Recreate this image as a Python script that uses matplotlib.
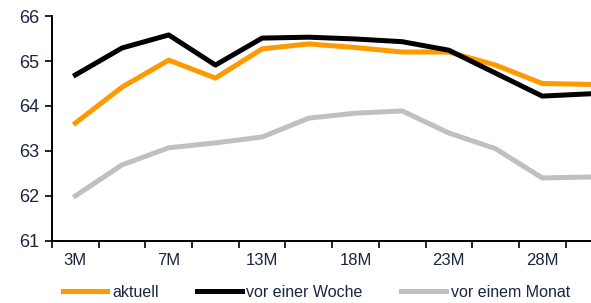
import matplotlib.pyplot as plt
import numpy as np

plt.rcParams['font.family'] = ['Liberation Sans', 'DejaVu Sans']

# categories (maturities), only every other one gets a label
CATEGORIES = ['3M', '5M', '7M', '10M', '13M', '15M', '18M', '20M', '23M', '25M', '28M', '30M']
TICK_LABELS = ['3M', '', '7M', '', '13M', '', '18M', '', '23M', '', '28M', '']

AKTUELL = [63.62, 64.42, 65.02, 64.62, 65.27, 65.38, 65.30, 65.20, 65.20, 64.91, 64.50, 64.48]
VOR_WOCHE = [64.69, 65.29, 65.58, 64.91, 65.51, 65.53, 65.49, 65.43, 65.24, 64.73, 64.22, 64.27]
VOR_MONAT = [62.00, 62.69, 63.07, 63.18, 63.31, 63.73, 63.84, 63.89, 63.40, 63.05, 62.40, 62.42]

TEXT_COLOR = '#1c2541'


def main():
    fig = plt.figure(figsize=(5.91, 3.03), dpi=100)
    ax = fig.add_axes([0.088, 0.205, 0.948, 0.742])

    x = np.arange(len(CATEGORIES))
    ax.plot(x, AKTUELL, color='#ff9900', linewidth=3.6, label='aktuell')
    ax.plot(x, VOR_WOCHE, color='black', linewidth=3.6, label='vor einer Woche')
    ax.plot(x, VOR_MONAT, color='#c0c0c0', linewidth=3.6, label='vor einem Monat')

    ax.set_xlim(-0.5, len(CATEGORIES) - 0.5)
    ax.set_ylim(61, 66)
    ax.set_yticks(range(61, 67))

    # labels at category centres, tick marks at the boundaries
    ax.set_xticks(x)
    ax.set_xticklabels(TICK_LABELS)
    ax.set_xticks(np.arange(-0.5, len(CATEGORIES), 1), minor=True)
    ax.tick_params(axis='x', which='major', length=0, pad=9, labelsize=12, labelcolor=TEXT_COLOR)
    ax.tick_params(axis='x', which='minor', length=5, width=1.2, direction='out')
    ax.tick_params(axis='y', length=5, width=1.2, pad=4, labelsize=13, labelcolor=TEXT_COLOR)

    for side in ['top', 'right']:
        ax.spines[side].set_visible(False)
    for side in ['left', 'bottom']:
        ax.spines[side].set_linewidth(1.4)

    fig.legend(loc='center', bbox_to_anchor=(0.535, 0.035), ncol=3, frameon=False,
               fontsize=11.5, handlelength=2.8, handletextpad=0.3, columnspacing=2.4,
               labelcolor=TEXT_COLOR)

    fig.savefig('out.png', dpi=100)


if __name__ == '__main__': main()
